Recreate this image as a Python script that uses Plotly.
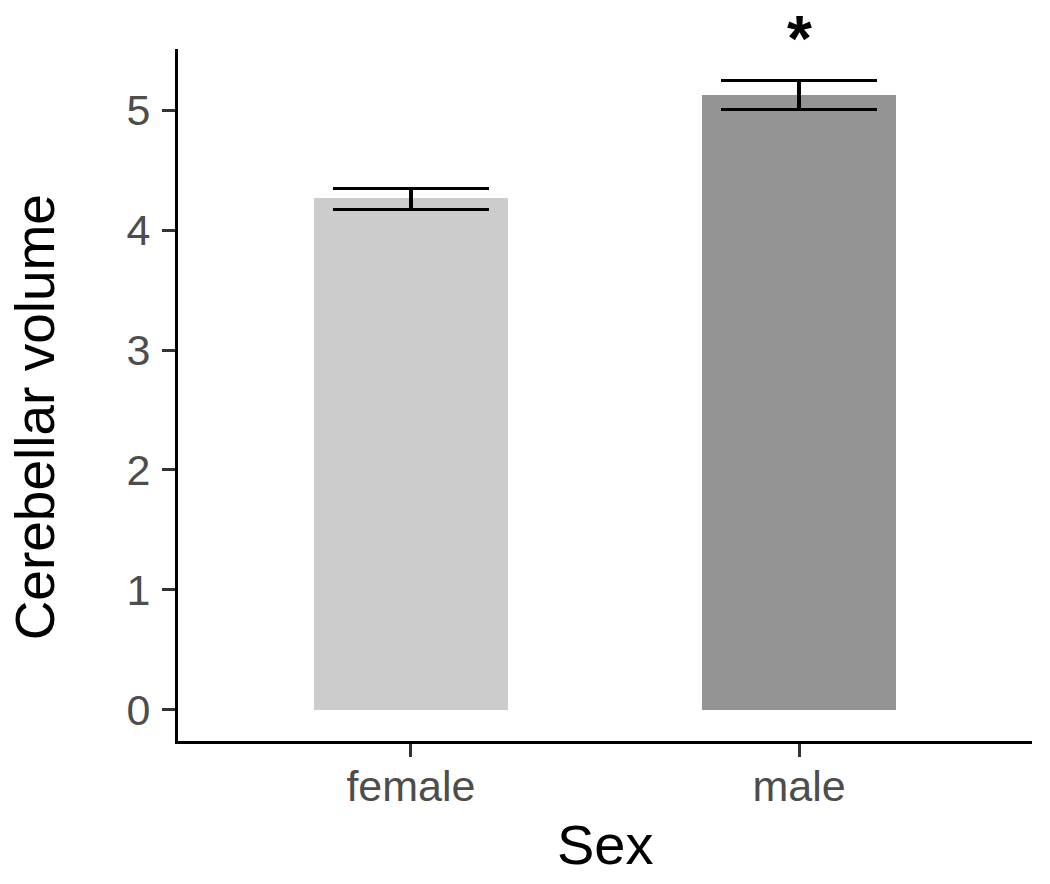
import plotly.graph_objects as go

sex = ["female", "male"]
mean_volume = [4.27, 5.13]
upper = [4.35, 5.25]
lower = [4.17, 5.01]
bar_colors = ["#CCCCCC", "#949494"]
signif = ["", "*"]
signif_y = 5.6

Y_RANGE = [-0.2625, 5.5125]

err_plus = [u - m for u, m in zip(upper, mean_volume)]
err_minus = [m - l for m, l in zip(mean_volume, lower)]

FONT = "Liberation Sans, Arial"

fig = go.Figure()
fig.add_trace(go.Bar(
    x=sex, y=mean_volume, width=0.5,
    marker=dict(color=bar_colors, line=dict(width=0)),
    error_y=dict(type="data", symmetric=False, array=err_plus, arrayminus=err_minus,
                 color="black", thickness=3.2, width=78),
    showlegend=False,
))
# significance marks: placed above the panel via paper coords from axis scale
for s, t in zip(sex, signif):
    if t:
        fig.add_annotation(x=s, xref="x", yref="paper",
                           y=(signif_y - Y_RANGE[0]) / (Y_RANGE[1] - Y_RANGE[0]),
                           text="<b>" + t + "</b>", showarrow=False, yanchor="middle",
                           font=dict(size=64, color="black", family=FONT))

fig.update_layout(
    width=1050, height=884,
    margin=dict(l=178, r=18, t=49, b=143, autoexpand=False),
    plot_bgcolor="white", paper_bgcolor="white",
    font=dict(family=FONT, color="black"),
    bargap=0,
)
fig.update_xaxes(
    range=[-0.6, 1.6], showline=True, linecolor="black", linewidth=3,
    ticks="outside", ticklen=13, tickwidth=3, tickcolor="#333333",
    tickfont=dict(size=43, color="#4D4D4D"), ticklabelstandoff=-8,
    showgrid=False, zeroline=False, automargin=False,
)
fig.update_yaxes(
    range=Y_RANGE, showline=True, linecolor="black", linewidth=3,
    tickvals=[0, 1, 2, 3, 4, 5],
    ticks="outside", ticklen=13, tickwidth=3, tickcolor="#333333",
    tickfont=dict(size=43, color="#4D4D4D"), ticklabelstandoff=3,
    showgrid=False, zeroline=False, automargin=False,
)
fig.add_annotation(xref="paper", yref="paper", x=0.5, y=-0.149, yanchor="middle",
                   text="Sex", showarrow=False, font=dict(size=56, color="black", family=FONT))
fig.add_annotation(xref="paper", yref="paper", x=-0.168, y=0.467, xanchor="center",
                   text="Cerebellar volume", textangle=-90, showarrow=False,
                   font=dict(size=55, color="black", family=FONT))
fig.write_html("out.html", config={"displayModeBar": False},
               post_script="document.body.style.margin='0';")
